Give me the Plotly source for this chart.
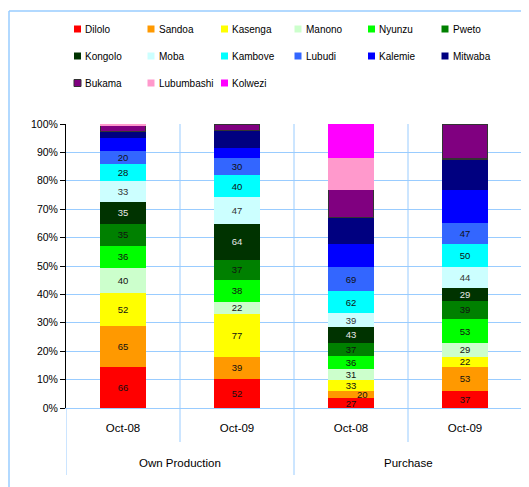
import plotly.graph_objects as go

# ---------------- data ----------------
periods = ["Oct-08", "Oct-09", "Oct-08", "Oct-09"]
group_labels = ["Own Production", "Purchase"]

series_names = ["Dilolo", "Sandoa", "Kasenga", "Manono", "Nyunzu", "Pweto",
                "Kongolo", "Moba", "Kambove", "Lubudi", "Kalemie", "Mitwaba",
                "Bukama", "Lubumbashi", "Kolwezi"]

Dilolo = [66, 52, 27, 37]
Sandoa = [65, 39, 20, 53]
Kasenga = [52, 77, 33, 22]
Manono = [40, 22, 31, 29]
Nyunzu = [36, 38, 36, 53]
Pweto = [35, 37, 37, 39]
Kongolo = [35, 64, 43, 29]
Moba = [33, 47, 39, 44]
Kambove = [28, 40, 62, 50]
Lubudi = [20, 30, 69, 47]
Kalemie = [21, 18, 65, 72]
Mitwaba = [10, 31, 75, 67]
Bukama = [9, 12, 77, 76]
Lubumbashi = [3, 0, 90, 0]
Kolwezi = [0, 0, 95, 0]

values = [Dilolo, Sandoa, Kasenga, Manono, Nyunzu, Pweto, Kongolo, Moba,
          Kambove, Lubudi, Kalemie, Mitwaba, Bukama, Lubumbashi, Kolwezi]
labeled = series_names[:10]

colors = ["#FF0000", "#FF9900", "#FFFF00", "#CCFFCC", "#00FF00", "#008000",
          "#003300", "#CCFFFF", "#00FFFF", "#3366FF", "#0000FF", "#000080",
          "#800080", "#FF99CC", "#FF00FF"]
label_colors = {"Kongolo": "#E8E8E8", "Moba": "#333333"}
bordered = {"Bukama": "#333333"}

# ---------------- geometry helpers (styling only) ----------------
OFF = 8                      # page body margin of the browser
W, H = 529 - OFF, 487 - OFF
L, T = 66 - OFF, 124 - OFF
R = W - (522 - OFF)
B = H - (408 - OFF)
PW, PH = W - L - R, H - T - B


def px_x(p):                 # screen pixel -> paper x
    return (p - OFF - L) / PW


def px_y(p):                 # screen pixel -> paper y
    return 1 + (T - (p - OFF)) / PH


FONT = "Liberation Sans, Arial"
GRID = "#99CCFF"

x_idx = list(range(len(periods)))
totals = [sum(v[i] for v in values) for i in x_idx]

fig = go.Figure()

for name, vals, col in zip(series_names, values, colors):
    if name in labeled:
        txt = [str(v) for v in vals]
        if name == "Sandoa":
            txt[2] = ""
    else:
        txt = ["" for _ in vals]
    fig.add_trace(go.Bar(
        x=x_idx, y=vals, name=name,
        marker=dict(color=col,
                    line=dict(color=bordered.get(name, col),
                              width=1.2 if name in bordered else 0)),
        text=txt, textposition="inside", insidetextanchor="middle",
        constraintext="none", textangle=0,
        textfont=dict(family=FONT, size=9.5,
                      color=label_colors.get(name, "#111111")),
        width=0.4, showlegend=False, hoverinfo="skip",
    ))

# Sandoa label in Purchase Oct-08 (moved to the right of its segment)
sand_y = (Dilolo[2] + Sandoa[2] / 2) / totals[2] * 100
annotations = [dict(x=2 + 0.1, y=sand_y, xref="x", yref="y", text=str(Sandoa[2]),
                    showarrow=False, font=dict(family=FONT, size=9.5, color="#111111"))]

for k, g in enumerate(group_labels):
    annotations.append(dict(x=2 * k + 0.5, y=px_y(463), xref="x", yref="paper",
                            text=g, showarrow=False, yanchor="middle",
                            font=dict(family=FONT, size=11.5, color="#000000")))

shapes = []
for xv in [0.5, 2.5]:
    shapes.append(dict(type="line", xref="x", yref="paper", x0=xv, x1=xv,
                       y0=px_y(442), y1=1, line=dict(color=GRID, width=1), layer="below"))
for xv in [1.5, 3.5]:
    shapes.append(dict(type="line", xref="x", yref="paper", x0=xv, x1=xv,
                       y0=px_y(475), y1=1, line=dict(color=GRID, width=1), layer="below"))
shapes.append(dict(type="line", xref="x", yref="paper", x0=-0.5, x1=-0.5,
                   y0=px_y(475), y1=0, line=dict(color=GRID, width=1), layer="below"))
# outer frame (left and top edges)
shapes.append(dict(type="line", xref="paper", yref="paper", x0=px_x(9), x1=px_x(9),
                   y0=px_y(500), y1=px_y(11), line=dict(color=GRID, width=1.5)))
shapes.append(dict(type="line", xref="paper", yref="paper", x0=px_x(9), x1=px_x(540),
                   y0=px_y(11), y1=px_y(11), line=dict(color=GRID, width=1.5)))

# legend: 6 columns x 3 rows of swatch + name
LEG_X0, LEG_DX, LEG_Y0, LEG_DY, SW = 74, 73.5, 29, 27, 7
for i, (name, col) in enumerate(zip(series_names, colors)):
    r, c = divmod(i, 6)
    sx = LEG_X0 + c * LEG_DX
    sy = LEG_Y0 + r * LEG_DY
    shapes.append(dict(type="rect", xref="paper", yref="paper",
                       x0=px_x(sx), x1=px_x(sx + SW),
                       y0=px_y(sy + SW / 2), y1=px_y(sy - SW / 2),
                       fillcolor=col,
                       line=dict(color=bordered.get(name, col),
                                 width=1 if name in bordered else 0)))
    annotations.append(dict(x=px_x(sx + SW + 2), y=px_y(sy), xref="paper", yref="paper",
                            text=name, showarrow=False, xanchor="left", yanchor="middle",
                            font=dict(family=FONT, size=10, color="#000000")))

fig.update_layout(
    width=W, height=H,
    margin=dict(l=L, r=R, t=T, b=B),
    paper_bgcolor="white", plot_bgcolor="white",
    barmode="stack", barnorm="percent",
    showlegend=False,
    xaxis=dict(range=[-0.5, 3.5], tickvals=x_idx, ticktext=periods,
               ticks="outside", ticklen=9, tickcolor="rgba(0,0,0,0)",
               showgrid=False, zeroline=False, showline=True, linecolor=GRID,
               tickfont=dict(family=FONT, size=11.5, color="#000000"), fixedrange=True),
    yaxis=dict(range=[0, 100], tickvals=list(range(0, 101, 10)),
               ticktext=[f"{v}%" for v in range(0, 101, 10)],
               ticks="outside", ticklen=5, tickcolor="#000000",
               showgrid=True, gridcolor=GRID, zeroline=False,
               showline=True, linecolor="#000000", linewidth=1,
               tickfont=dict(family=FONT, size=10.5, color="#000000"), fixedrange=True),
    annotations=annotations, shapes=shapes,
)

fig.write_html("out.html")
